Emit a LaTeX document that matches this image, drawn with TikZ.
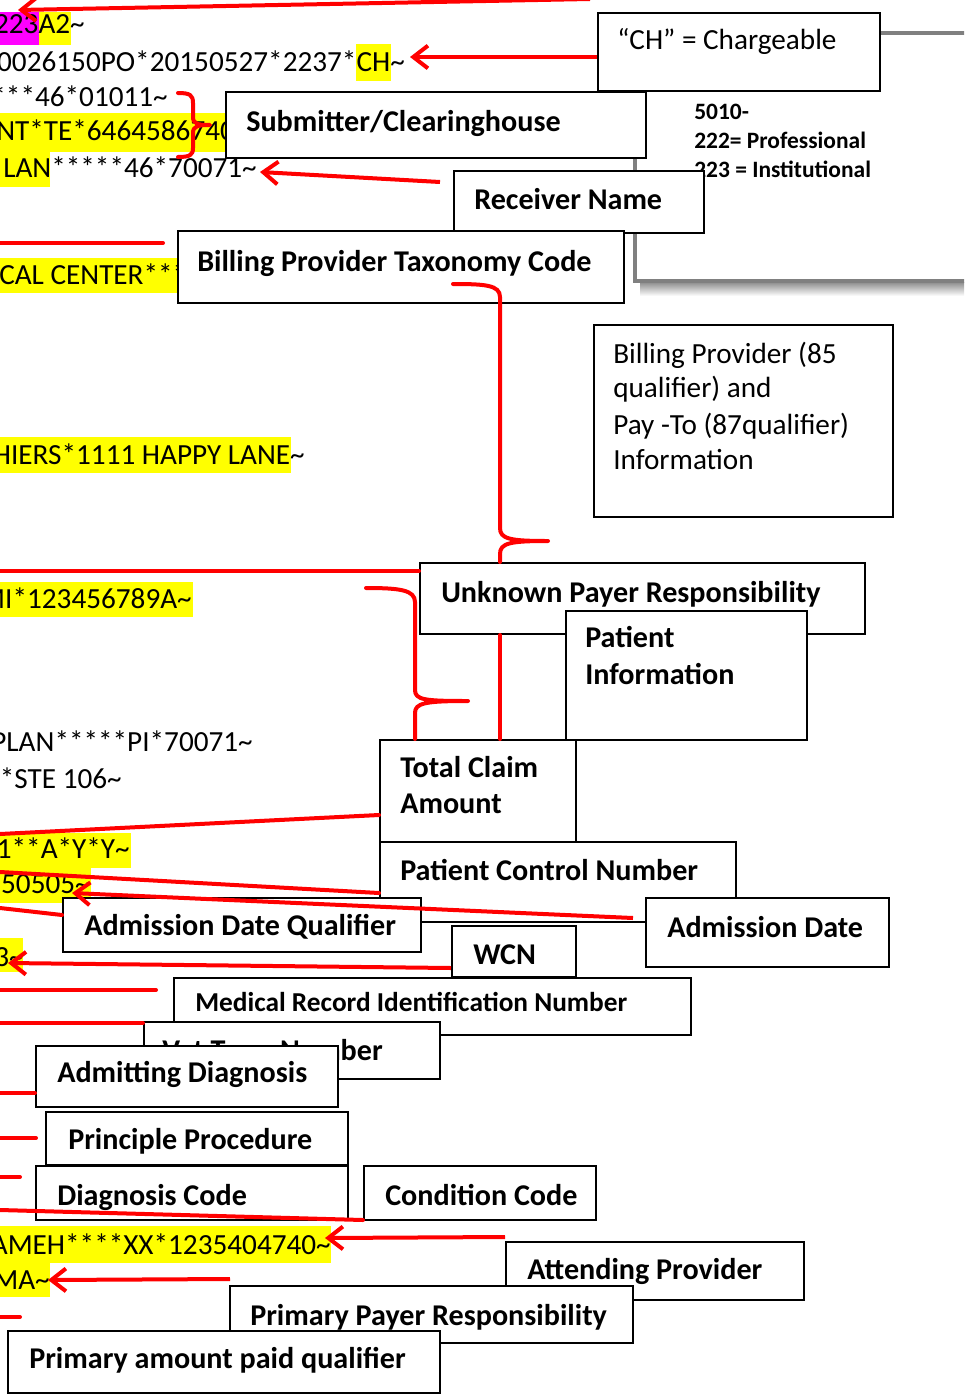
\documentclass[tikz,border=0pt]{standalone}
\usepackage{fontspec}
\setmainfont{Carlito}
\usetikzlibrary{arrows.meta,fit,calc}
\definecolor{hiyel}{RGB}{255,255,0}
\definecolor{himag}{RGB}{255,0,255}
\definecolor{conred}{RGB}{255,0,0}
\definecolor{panelgray}{RGB}{128,128,128}
\newcommand\tld{\textasciitilde}
\begin{document}
\begin{tikzpicture}[x=0.75pt,y=-0.75pt,
  box/.style={draw=black,fill=white,line width=1.5pt,inner sep=0pt},
  txt/.style={inner sep=0pt,font=\fontsize{21.9}{26}\selectfont},
  lbl/.style={inner sep=0pt,font=\fontsize{22.6}{26}\selectfont\bfseries},
  lblsmall/.style={inner sep=0pt,font=\fontsize{20.5}{24}\selectfont\bfseries},
  lblgray/.style={inner sep=0pt,font=\fontsize{17.6}{21}\selectfont\bfseries},
  rl/.style={draw=conred,line width=3pt,line cap=round},
  ra/.style={draw=conred,line width=3pt,-{Straight Barb[length=11pt,width=17pt]}},
  ]
\useasboundingbox (0,0) rectangle (964,1395);
\clip (0,0) rectangle (964,1395);
\fill[white] (0,0) rectangle (964,1395);

% ---------- highlighted EDI text (clipped on the left) ----------
\fill[himag] (0,12) rectangle (39,45);
\fill[hiyel] (39,12) rectangle (71,45);
\node[txt,anchor=base east] (t1) at (85,34) {223A2\tld};

\fill[hiyel] (356,44) rectangle (391,81);
\node[txt,anchor=base east] (t2) at (405,71) {0026150PO*20150527*2237*CH\tld};

\node[txt,anchor=base east] (t3) at (168,107) {***46*01011\tld};

\fill[hiyel] (0,113) rectangle (240,152);
\node[txt,anchor=base west] (t4) at (-4,140) {NT*TE*6464586740};

\fill[hiyel] (0,152) rectangle (50,187);
\node[txt,anchor=base east] (t5) at (257,177) {LAN*****46*70071\tld};

\fill[hiyel] (0,258) rectangle (190,293);
\node[txt,anchor=base west] (t7) at (-1,284) {CAL CENTER***};

\fill[hiyel] (0,437) rectangle (291,473);
\node[txt,anchor=base east] (t8) at (305,464) {HIERS*1111 HAPPY LANE\tld};

\fill[hiyel] (0,582) rectangle (193,617);
\node[txt,anchor=base east] (t10) at (192,608) {MI*123456789A\tld};

\node[txt,anchor=base east] (t11) at (253,751) {PLAN*****PI*70071\tld};
\node[txt,anchor=base east] (t12) at (122,788) {*STE 106\tld};

\fill[hiyel] (0,833) rectangle (131,868);
\node[txt,anchor=base east] (t14) at (130,858) {1**A*Y*Y\tld};

\fill[hiyel] (0,868) rectangle (91,903);
\node[txt,anchor=base east] (t15) at (90,893) {50505\tld};

\fill[hiyel] (0,938) rectangle (23,972);
\node[txt,anchor=base east] (t16) at (24,966) {3\tld};

\fill[hiyel] (0,1226) rectangle (331,1263);
\node[txt,anchor=base east] (t20) at (331,1254) {AMEH****XX*1235404740\tld};

\fill[hiyel] (0,1263) rectangle (50,1297);
\node[txt,anchor=base east] (t21) at (50,1289) {MA\tld};

% ---------- gray framed panel ----------
\shade[top color=black!45,bottom color=white] (640,282) rectangle (1000,296);
\draw[panelgray,line width=3pt] (635,33) rectangle (1000,281);
\node[lblgray,anchor=base west] (g1) at (694,119) {5010-};
\node[lblgray,anchor=base west] (g2) at (694,148) {222= Professional};
\node[lblgray,anchor=base west] (g3) at (694,177) {223 = Institutional};

% ---------- boxes ----------
\node[box,fit={(598,13) (880,91)}] (ch) {};
\node[txt,anchor=base west] (chT) at (617,50) {“CH” = Chargeable};

\node[box,fit={(226,92) (646,158)}] (sub) {};
\node[lbl,anchor=base west] (subT) at (246,131) {Submitter/Clearinghouse};

\node[box,fit={(454,171) (704,233)}] (rec) {};
\node[lbl,anchor=base west] (recT) at (474,209) {Receiver Name};

\node[box,fit={(178,231) (624,303)}] (bpt) {};
\node[lbl,anchor=base west] (bptT) at (197,271) {Billing Provider Taxonomy Code};

\node[box,fit={(594,325) (893,517)}] (bp) {};
\node[txt,anchor=base west] (bpT1) at (613,363) {Billing Provider (85};
\node[txt,anchor=base west] (bpT2) at (613,397) {qualifier) and};
\node[txt,anchor=base west] (bpT3) at (613,434) {Pay -To (87qualifier)};
\node[txt,anchor=base west] (bpT4) at (613,469) {Information};

\node[box,fit={(420,563) (865,634)}] (upr) {};
\node[lbl,anchor=base west] (uprT) at (441,602) {Unknown Payer Responsibility};

\node[box,fit={(566,611) (807,740)}] (pin) {};
\node[lbl,anchor=base west] (pinT1) at (585,647) {Patient};
\node[lbl,anchor=base west] (pinT2) at (585,684) {Information};

\node[box,fit={(380,740) (576,842)}] (tca) {};
\node[lbl,anchor=base west] (tcaT1) at (400,777) {Total Claim};
\node[lbl,anchor=base west] (tcaT2) at (400,813) {Amount};

\node[box,fit={(380,842) (736,922)}] (pcn) {};
\node[lbl,anchor=base west] (pcnT) at (400,880) {Patient Control Number};

\node[box,fit={(646,898) (889,967)}] (adt) {};
\node[lbl,anchor=base west] (adtT) at (667,937) {Admission Date};

\node[box,fit={(63,898) (421,952)}] (adq) {};
\node[lbl,anchor=base west] (adqT) at (84,935) {Admission Date Qualifier};

\node[box,fit={(452,926) (576,977)}] (wcn) {};
\node[lbl,anchor=base west] (wcnT) at (473,964) {WCN};

\node[box,fit={(174,978) (691,1035)}] (mri) {};
\node[lblsmall,anchor=base west] (mriT) at (195,1011) {Medical Record Identification Number};

\node[box,fit={(144,1022) (440,1079)}] (vet) {};
\node[lbl,anchor=base west] (vetT) at (162,1060) {Vet Term Number};

\node[box,fit={(36,1046) (338,1107)}] (adm) {};
\node[lbl,anchor=base west] (admT) at (57,1082) {Admitting Diagnosis};

\node[box,fit={(46,1112) (348,1165)}] (ppc) {};
\node[lbl,anchor=base west] (ppcT) at (68,1149) {Principle Procedure};

\node[box,fit={(36,1166) (348,1220)}] (dgc) {};
\node[lbl,anchor=base west] (dgcT) at (57,1205) {Diagnosis Code};

\node[box,fit={(364,1166) (596,1220)}] (cdc) {};
\node[lbl,anchor=base west] (cdcT) at (385,1205) {Condition Code};

\node[box,fit={(506,1242) (804,1300)}] (att) {};
\node[lbl,anchor=base west] (attT) at (527,1279) {Attending Provider};

\node[box,fit={(230,1286) (633,1343)}] (ppr) {};
\node[lbl,anchor=base west] (pprT) at (250,1325) {Primary Payer Responsibility};

\node[box,fit={(8,1331) (440,1393)}] (pap) {};
\node[lbl,anchor=base west] (papT) at (29,1368) {Primary amount paid qualifier};

% ---------- red connectors ----------
\coordinate (c1) at (18,10);
\draw[ra] (590,-1) -- (c1);
\draw[ra] (ch.west |- 0,57) -- (410,57);
\draw[rl,line join=round] (178,93) .. controls (190,93) and (193,95) .. (193,103) -- (193,117)
   .. controls (193,124) and (198,125) .. (210,125)
   .. controls (198,125) and (193,126) .. (193,133) -- (193,148)
   .. controls (193,155) and (190,157) .. (178,157);
\draw[ra] (440,182) -- (260,172);
\draw[rl] (0,243) -- (163,243);
\draw[rl,line join=round] (453,284) .. controls (485,284) and (500,285) .. (500,297) -- (500,528)
   .. controls (500,539) and (510,541) .. (548,541)
   .. controls (510,541) and (500,543) .. (500,554) -- (upr.north -| 500,0);
\draw[rl] (upr.south -| 500,0) -- (tca.north -| 500,0);
\draw[rl] (0,571) -- (upr.west |- 0,571);
\draw[rl,line join=round] (366,588) .. controls (400,588) and (415,590) .. (415,602) -- (415,690)
   .. controls (415,700) and (425,701) .. (468,701)
   .. controls (425,701) and (415,703) .. (415,713) -- (tca.north -| 415,0);
\draw[rl] (0,834) -- (tca.west |- 0,815);
\draw[rl] (0,872) -- (pcn.west |- 0,893);
\draw[ra] (633,918) -- (72,893);
\draw[rl] (0,908) -- (adq.west |- 0,915);
\draw[ra] (wcn.west |- 0,968) -- (8,963);
\draw[rl] (0,990) -- (156,990);
\draw[rl] (0,1023) -- (vet.west |- 0,1023);
\draw[rl] (0,1093) -- (adm.west |- 0,1093);
\draw[rl] (0,1138) -- (36,1138);
\draw[rl] (0,1177) -- (20,1177);
\draw[rl] (0,1210) -- (cdc.west |- 0,1220);
\draw[ra] (505,1237) -- (325,1238);
\draw[ra] (230,1279) -- (48,1280);
\draw[rl] (0,1317) -- (20,1317);
\end{tikzpicture}
\end{document}
